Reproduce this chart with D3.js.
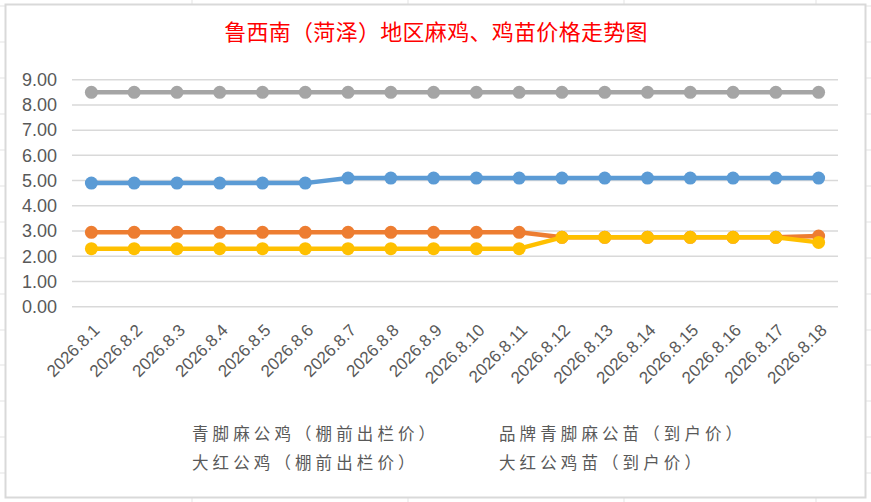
<!DOCTYPE html>
<html>
<head>
<meta charset="utf-8">
<script src="https://cdn.jsdelivr.net/npm/d3@7"></script>
<style>
  html, body { margin: 0; padding: 0; background: #fff; }
  svg { display: block; }
</style>
</head>
<body>
<script>
const dates = ["2026.8.1", "2026.8.2", "2026.8.3", "2026.8.4", "2026.8.5", "2026.8.6",
  "2026.8.7", "2026.8.8", "2026.8.9", "2026.8.10", "2026.8.11", "2026.8.12",
  "2026.8.13", "2026.8.14", "2026.8.15", "2026.8.16", "2026.8.17", "2026.8.18"];

const seriesNames = ["青脚麻公鸡（棚前出栏价）", "品牌青脚麻公苗（到户价）",
  "大红公鸡（棚前出栏价）", "大红公鸡苗（到户价）"];

const qingjiaoRooster = [4.9, 4.9, 4.9, 4.9, 4.9, 4.9, 5.1, 5.1, 5.1, 5.1, 5.1, 5.1, 5.1, 5.1, 5.1, 5.1, 5.1, 5.1];
const qingjiaoChick = [2.95, 2.95, 2.95, 2.95, 2.95, 2.95, 2.95, 2.95, 2.95, 2.95, 2.95, 2.75, 2.75, 2.75, 2.75, 2.75, 2.75, 2.8];
const redRooster = [8.5, 8.5, 8.5, 8.5, 8.5, 8.5, 8.5, 8.5, 8.5, 8.5, 8.5, 8.5, 8.5, 8.5, 8.5, 8.5, 8.5, 8.5];
const redChick = [2.3, 2.3, 2.3, 2.3, 2.3, 2.3, 2.3, 2.3, 2.3, 2.3, 2.3, 2.75, 2.75, 2.75, 2.75, 2.75, 2.75, 2.55];

const yTicks = [0, 1, 2, 3, 4, 5, 6, 7, 8, 9];
const colors = ["#5B9BD5", "#ED7D31", "#A5A5A5", "#FFC000"];

const width = 871;
const height = 502;

const svg = d3.select("body").append("svg")
  .attr("width", width)
  .attr("height", height);

// spreadsheet cells peeking out around the chart
const sheet = svg.append("g").attr("stroke", "#e3e3e3").attr("stroke-width", 1);
[192, 408, 624, 816].forEach(x => {
  sheet.append("line").attr("x1", x).attr("x2", x).attr("y1", 0).attr("y2", 4);
  sheet.append("line").attr("x1", x).attr("x2", x).attr("y1", 498).attr("y2", height);
});
[6, 42, 78, 114, 150, 186, 222, 258, 294, 330, 365, 401, 437, 473].forEach(y => {
  sheet.append("line").attr("x1", 0).attr("x2", 5).attr("y1", y).attr("y2", y);
  sheet.append("line").attr("x1", 866).attr("x2", width).attr("y1", y).attr("y2", y);
});

svg.append("rect")
  .attr("x", 5.5).attr("y", 4.5)
  .attr("width", 860).attr("height", 493)
  .attr("fill", "#fff")
  .attr("stroke", "#d9d9d9")
  .attr("stroke-width", 2);

svg.append("text")
  .attr("x", 436)
  .attr("y", 34)
  .attr("text-anchor", "middle")
  .attr("dominant-baseline", "middle")
  .attr("fill", "#ff0000")
  .attr("font-family", "'Noto Sans CJK SC', sans-serif")
  .attr("font-size", 22)
  .attr("letter-spacing", 0.3)
  .text("鲁西南（菏泽）地区麻鸡、鸡苗价格走势图");

const x = d3.scalePoint().domain(dates).range([70, 840]).padding(0.5);
const y = d3.scaleLinear().domain([0, 9]).range([306.7, 79.7]);

// gridlines
svg.append("g")
  .selectAll("line")
  .data(yTicks)
  .join("line")
  .attr("x1", 72).attr("x2", 838)
  .attr("y1", d => y(d)).attr("y2", d => y(d))
  .attr("stroke", "#d9d9d9")
  .attr("stroke-width", 1.5);

// y labels
const yAxis = d3.axisLeft(y).tickValues(yTicks).tickFormat(d3.format(".2f")).tickSize(0).tickPadding(0);
const yg = svg.append("g").attr("transform", "translate(57,0)").call(yAxis);
yg.select(".domain").remove();
yg.selectAll("text")
  .attr("fill", "#595959")
  .attr("font-family", "'Liberation Sans', sans-serif")
  .attr("font-size", 18);

// x labels
const xAxis = d3.axisBottom(x).tickSize(0).tickPadding(0);
const xg = svg.append("g").call(xAxis);
xg.select(".domain").remove();
xg.selectAll(".tick").attr("transform", d => `translate(${x(d) + 5},327)`);
xg.selectAll("text")
  .attr("y", 0).attr("dy", "0.35em")
  .attr("text-anchor", "end")
  .attr("transform", "rotate(-45)")
  .attr("fill", "#595959")
  .attr("font-family", "'Liberation Sans', sans-serif")
  .attr("font-size", 17);

const series = [qingjiaoRooster, qingjiaoChick, redRooster, redChick];
const line = d3.line().x((d, i) => x(dates[i])).y(d => y(d));

series.forEach((vals, k) => {
  const g = svg.append("g");
  g.append("path")
    .datum(vals)
    .attr("d", line)
    .attr("fill", "none")
    .attr("stroke", colors[k])
    .attr("stroke-width", 4.5)
    .attr("stroke-linejoin", "round");
  g.selectAll("circle")
    .data(vals)
    .join("circle")
    .attr("cx", (d, i) => x(dates[i]))
    .attr("cy", d => y(d))
    .attr("r", 6.5)
    .attr("fill", colors[k]);
});

// legend (text only, as in the original)
const legendPos = [[192, 436], [499, 436], [192, 465], [499, 465]];
svg.append("g")
  .selectAll("text")
  .data(seriesNames)
  .join("text")
  .attr("x", (d, i) => legendPos[i][0])
  .attr("y", (d, i) => legendPos[i][1])
  .attr("dominant-baseline", "middle")
  .attr("fill", "#595959")
  .attr("font-family", "'Noto Sans CJK SC', sans-serif")
  .attr("font-size", 16.5)
  .attr("letter-spacing", 4.1)
  .text(d => d);
</script>
</body>
</html>
